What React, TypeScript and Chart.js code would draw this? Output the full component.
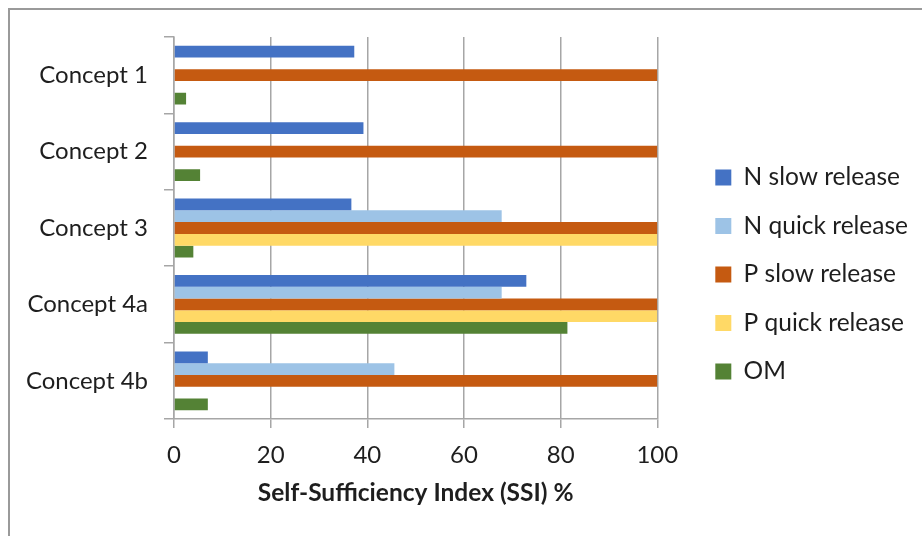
import React, { useEffect, useRef } from 'react';
import { Chart, registerables } from 'chart.js';

Chart.register(...registerables);

const categories = ['Concept 1', 'Concept 2', 'Concept 3', 'Concept 4a', 'Concept 4b'];
const seriesNames = ['N slow release', 'N quick release', 'P slow release', 'P quick release', 'OM'];
const nSlow = [37.3, 39.2, 36.7, 72.9, 7.0];
const nQuick = [null, null, 67.8, 67.8, 45.6];
const pSlow = [100, 100, 100, 100, 100];
const pQuick = [null, null, 100, 100, null];
const om = [2.5, 5.4, 4.0, 81.4, 7.0];
const xTicks = [0, 20, 40, 60, 80, 100];
const axisTitle = 'Self-Sufficiency Index (SSI) %';
const seriesColors = ['#4472C4', '#9DC3E6', '#C55A11', '#FFD966', '#548235'];

const FONT = 'Lato, "Open Sans", sans-serif';
const TEXT = '#1e1e1e';
const GRID = '#a6a6a6';

export default function App() {
  const ref = useRef<HTMLCanvasElement | null>(null);

  useEffect(() => {
    if (!ref.current) return;
    const values = [nSlow, nQuick, pSlow, pQuick, om];
    const chart = new Chart(ref.current, {
      type: 'bar',
      data: {
        labels: categories,
        datasets: seriesNames.map((name, i) => ({
          label: name,
          data: values[i] as any,
          backgroundColor: seriesColors[i],
          borderColor: seriesColors[i],
          borderWidth: 0,
          categoryPercentage: 5 / 6.5,
          barPercentage: 1,
        })),
      },
      options: {
        indexAxis: 'y',
        animation: false,
        responsive: false,
        layout: { padding: { top: 37, bottom: 24, left: 0, right: 4 } },
        plugins: {
          legend: {
            position: 'right',
            labels: {
              boxWidth: 16,
              boxHeight: 16,
              padding: 24,
              color: TEXT,
              font: { family: FONT, size: 24.5 },
            },
          },
          tooltip: { enabled: false },
        },
        scales: {
          x: {
            type: 'linear',
            min: 0,
            max: 100,
            afterBuildTicks: (s: any) => {
              s.ticks = xTicks.map((v) => ({ value: v }));
            },
            ticks: { color: TEXT, font: { family: FONT, size: 24 }, padding: 13 },
            grid: { color: GRID, lineWidth: 1.5, tickLength: 9 },
            border: { color: GRID, width: 1.5 },
            title: {
              display: true,
              text: axisTitle,
              color: TEXT,
              font: { family: FONT, size: 24.5, weight: 'bold' },
              padding: { top: 0, bottom: 4 },
            },
            afterFit: (s: any) => {
              s.height = 93;
            },
          },
          y: {
            type: 'category',
            ticks: { color: TEXT, font: { family: FONT, size: 24 }, padding: 16 },
            grid: { drawOnChartArea: false, tickLength: 10, color: GRID, lineWidth: 1.5, offset: true },
            border: { color: GRID, width: 1.5 },
            afterFit: (s: any) => {
              s.width = 174;
            },
          },
          gap: {
            type: 'category',
            axis: 'y',
            position: 'right',
            display: false,
            labels: categories,
            afterFit: (s: any) => {
              s.width = 34;
            },
          },
        } as any,
      },
    });
    return () => chart.destroy();
  }, []);

  return (
    <div style={{ position: 'fixed', left: 0, top: 0, width: 922, height: 536, background: '#fff' }}>
      <div
        style={{
          position: 'absolute',
          left: 8,
          top: 8,
          width: 914,
          height: 528,
          boxSizing: 'border-box',
          borderTop: '2px solid #9a9a9a',
          borderLeft: '2px solid #9a9a9a',
        }}
      />
      <canvas ref={ref} width={922} height={536} style={{ position: 'absolute', left: 0, top: 0 }} />
    </div>
  );
}
